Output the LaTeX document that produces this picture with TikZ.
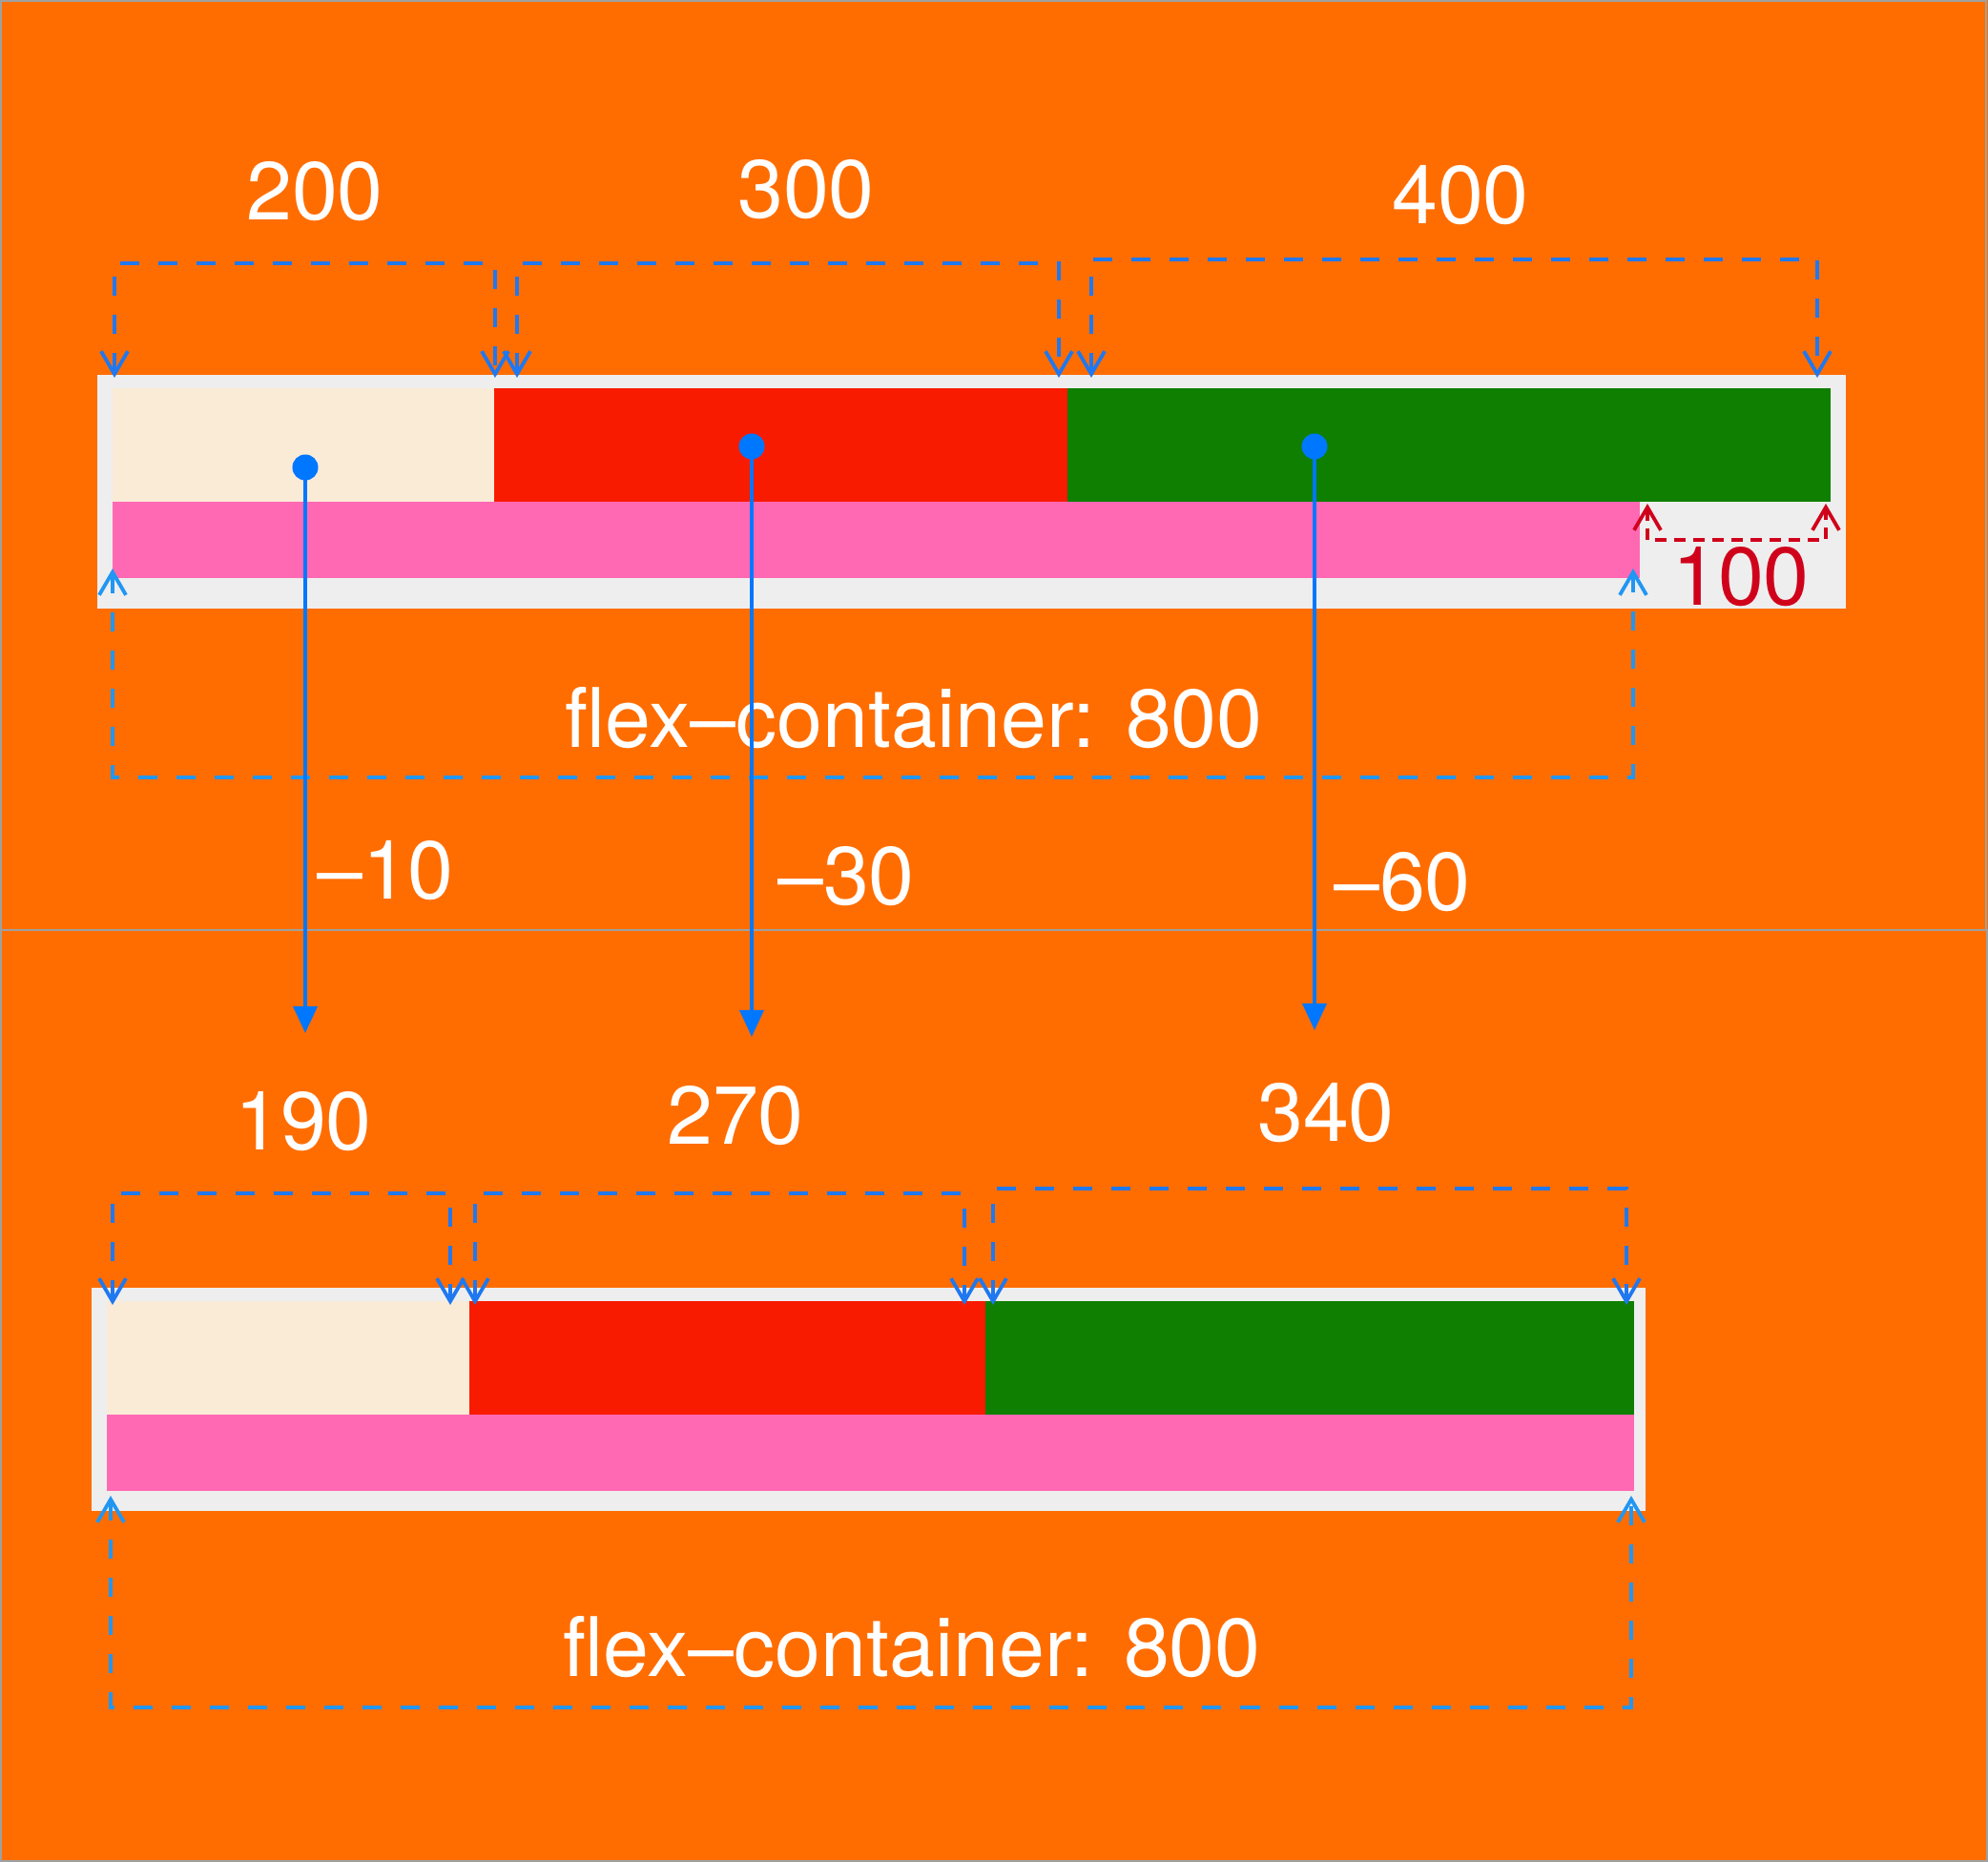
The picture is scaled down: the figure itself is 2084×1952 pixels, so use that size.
\documentclass[tikz,border=0pt]{standalone}
\usepackage{fontspec}
\setmainfont{TeX Gyre Heros}[Ligatures=CommonOff]
\usetikzlibrary{arrows.meta}
\definecolor{bgorange}{HTML}{FF6D00}
\definecolor{boxgray}{HTML}{EEEEEE}
\definecolor{panelgray}{HTML}{A0A0A0}
\definecolor{itemcream}{HTML}{FAEBD7}
\definecolor{itemred}{HTML}{F91B00}
\definecolor{itemgreen}{HTML}{0E7F00}
\definecolor{itempink}{HTML}{FF69B4}
\definecolor{flowblue}{HTML}{0077FF}
\definecolor{dimblue}{HTML}{1F78F0}
\definecolor{baseblue}{HTML}{2196F3}
\definecolor{dimred}{HTML}{D0021B}
\begin{document}
\begin{tikzpicture}[
  x=0.01cm, y=-0.01cm,
  frame/.style={anchor=north west, inner sep=0, outer sep=0, fill=boxgray},
  bar/.style={anchor=north west, inner sep=0, outer sep=0, minimum height=11.9mm},
  dot/.style={circle, fill=flowblue, inner sep=0, minimum size=2.7mm},
  flow/.style={flowblue, line width=0.35mm, -{Triangle[length=2.8mm, width=2.5mm]}},
  bracket/.style={line width=0.38mm, dash pattern=on 2mm off 2mm,
    {Straight Barb[length=2.4mm, width=2.8mm]}-{Straight Barb[length=2.4mm, width=2.8mm]}},
  lbl/.style={anchor=base, inner sep=0, text=white, font=\fontsize{24.5}{28}\selectfont}
]
\useasboundingbox (0,0) rectangle (2084,1952);
\fill[bgorange] (0,0) rectangle (2084,1952);
\draw[panelgray, line width=0.2mm] (1,1) rectangle (2082,975);
\draw[panelgray, line width=0.2mm] (1,975) rectangle (2083,1951);

% before
\node[frame, minimum width=183.2mm, minimum height=24.5mm] (box1) at (102,393) {};
\node[bar, fill=itemcream, minimum width=40mm] (cream1) at (118,407) {};
\node[bar, fill=itemred, minimum width=60mm] (red1) at (cream1.north east) {};
\node[bar, fill=itemgreen, minimum width=80mm] (green1) at (red1.north east) {};
\node[bar, fill=itempink, minimum width=160mm, minimum height=8mm] (pink1) at (cream1.south west) {};

\coordinate (a200) at (120,396);
\coordinate (b200) at (519,396);
\coordinate (a300) at (542,396);
\coordinate (b300) at (1110,396);
\coordinate (a400) at (1144,396);
\coordinate (b400) at (1905,396);
\draw[bracket, dimblue] (a200) -- ++(0,-120) -| (b200);
\draw[bracket, dimblue] (a300) -- ++(0,-120) -| (b300);
\draw[bracket, dimblue] (a400) -- ++(0,-124) -| (b400);
\node[lbl] (w200) at (330,231) {200};
\node[lbl] (w300) at (845,229) {300};
\node[lbl] (w400) at (1531,235) {400};

\coordinate (l1) at (118,596);
\coordinate (r1) at (1712,596);
\draw[bracket, baseblue] (l1) -- ++(0,219) -| (r1);
\node[lbl] (base1) at (958,783) {flex–container: 800};

\coordinate (free1) at (1727,528);
\coordinate (free2) at (1914,528);
\draw[bracket, dimred, dash pattern=on 1.2mm off 0.8mm] (free1) -- ++(0,38) -| (free2);
\node[lbl, text=dimred] (rest) at (1825,635) {100};

% shrink
\node[dot] (dot200) at (320,490) {};
\node[dot] (dot300) at (788,468) {};
\node[dot] (dot400) at (1378,468) {};
\coordinate (to190) at (320,1083);
\coordinate (to270) at (788,1087);
\coordinate (to340) at (1378,1080);
\draw[flow] (dot200.center) -- (to190);
\draw[flow] (dot300.center) -- (to270);
\draw[flow] (dot400.center) -- (to340);
\node[lbl] (s10) at (404,942) {–10};
\node[lbl] (s30) at (887,948) {–30};
\node[lbl] (s60) at (1470,954) {–60};

% after
\node[frame, minimum width=162.8mm, minimum height=23.4mm] (box2) at (96,1350) {};
\node[bar, fill=itemcream, minimum width=38mm] (cream2) at (112,1364) {};
\node[bar, fill=itemred, minimum width=54mm] (red2) at (cream2.north east) {};
\node[bar, fill=itemgreen, minimum width=68mm] (green2) at (red2.north east) {};
\node[bar, fill=itempink, minimum width=160mm, minimum height=8mm] (pink2) at (cream2.south west) {};

\coordinate (a190) at (118,1368);
\coordinate (b190) at (472,1368);
\coordinate (a270) at (498,1368);
\coordinate (b270) at (1011,1368);
\coordinate (a340) at (1041,1368);
\coordinate (b340) at (1705,1368);
\draw[bracket, dimblue] (a190) -- ++(0,-117) -| (b190);
\draw[bracket, dimblue] (a270) -- ++(0,-117) -| (b270);
\draw[bracket, dimblue] (a340) -- ++(0,-122) -| (b340);
\node[lbl] (w190) at (318,1205) {190};
\node[lbl] (w270) at (771,1199) {270};
\node[lbl] (w340) at (1390,1196) {340};

\coordinate (l2) at (116,1568);
\coordinate (r2) at (1710,1568);
\draw[bracket, baseblue] (l2) -- ++(0,222) -| (r2);
\node[lbl] (base2) at (956,1757) {flex–container: 800};
\end{tikzpicture}
\end{document}
